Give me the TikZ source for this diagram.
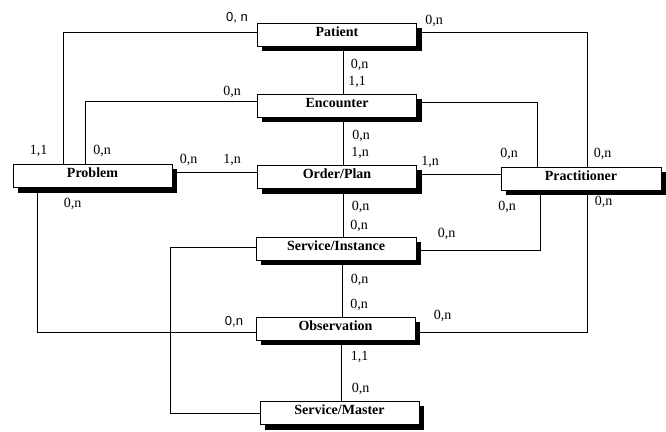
\documentclass[tikz,border=0pt]{standalone}
\usepackage{fontspec}
\setmainfont{Liberation Serif}
\newfontfamily\handfont{Liberation Sans}
\begin{document}
\begin{tikzpicture}[x=1pt,y=-1pt,
  ent/.style={draw=black, line width=0.8pt, fill=white, inner xsep=0pt, inner ysep=0pt,
    minimum width=159pt, text height=13pt, text depth=10pt,
    font=\fontsize{14}{14}\selectfont\bfseries},
  conn/.style={draw=black, line width=0.8pt},
  shadowline/.style={draw=black, line width=5pt, line cap=butt},
  card/.style={anchor=base, inner sep=0pt, font=\fontsize{14}{14}\selectfont},
  hcard/.style={anchor=base, inner sep=0pt, font=\handfont\fontsize{13}{13}\selectfont}]
\useasboundingbox (0,0) rectangle (666,431);

% entities
\node[ent] (pat) at (337,34.5) {Patient};
\node[ent] (enc) at (337,105.5) {Encounter};
\node[ent] (ord) at (337,177) {Order/Plan};
\node[ent] (prob) at (92.5,176) {Problem};
\node[ent, minimum width=160pt] (prac) at (581,178.5) {Practitioner};
\node[ent, minimum width=160pt] (si) at (336,248.5) {Service/Instance};
\node[ent] (obs) at (335.5,328.5) {Observation};
\node[ent] (sm) at (339.5,413) {Service/Master};

% shadows (right and bottom strips drawn as thick lines)
\foreach \n in {pat,enc,ord,prob,prac,si,obs,sm}{
  \draw[shadowline] ([xshift=2.5pt,yshift=-5pt]\n.north east) -- ([xshift=2.5pt,yshift=-5pt]\n.south east);
  \draw[shadowline] ([xshift=5pt,yshift=-2.5pt]\n.south west) -- ([xshift=5pt,yshift=-2.5pt]\n.south east);
}

% connectors on the left
\draw[conn] ([yshift=2.5pt]pat.west) -| ([xshift=51pt]prob.north west);
\draw[conn] ([yshift=4pt]enc.west) -| ([xshift=73pt]prob.north west);
\draw[conn] ([yshift=4pt]prob.east) -- ([yshift=5pt]ord.west);
\draw[conn] ([xshift=25pt]prob.south west) |- ([yshift=-3.5pt]obs.west);
\draw[conn] ([yshift=1.5pt]si.west) -- ++(-85,0) |- (sm.west);

% connectors on the right
\draw[conn] ([yshift=2.5pt,xshift=5pt]pat.east) -| ([xshift=87pt]prac.north west);
\draw[conn] ([yshift=3pt,xshift=5pt]enc.east) -| ([xshift=37pt]prac.north west);
\draw[conn] ([yshift=3pt,xshift=5pt]ord.east) -- ([yshift=4.5pt]prac.west);
\draw[conn] ([xshift=40pt,yshift=-5pt]prac.south west) |- ([yshift=-1.5pt,xshift=5pt]si.east);
\draw[conn] ([xshift=87pt,yshift=-5pt]prac.south west) |- ([yshift=-3.5pt,xshift=5pt]obs.east);

% central spine
\draw[conn] ([xshift=6pt,yshift=-5pt]pat.south) -- ([xshift=6pt]pat.south |- enc.north);
\draw[conn] ([xshift=6pt,yshift=-5pt]enc.south) -- ([xshift=6pt]enc.south |- ord.north);
\draw[conn] ([xshift=6pt,yshift=-5pt]ord.south) -- ([xshift=6pt]ord.south |- si.north);
\draw[conn] ([xshift=6pt,yshift=-5pt]si.south) -- ([xshift=6pt]si.south |- obs.north);
\draw[conn] ([xshift=6pt,yshift=-5pt]obs.south) -- ([xshift=6pt]obs.south |- sm.north);

% cardinalities
\node[hcard] (l1) at (237,21) {0, n};
\node[card] (l2) at (434,24) {0,n};
\node[card] (l3) at (359.5,68) {0,n};
\node[card] (l4) at (357,85) {1,1};
\node[card] (l5) at (232,95) {0,n};
\node[card] (l6) at (361,139) {0,n};
\node[card] (l7) at (360,156) {1,n};
\node[card] (l8) at (38.5,154) {1,1};
\node[card] (l9) at (102,154) {0,n};
\node[card] (l10) at (188.5,163) {0,n};
\node[card] (l11) at (232,163) {1,n};
\node[card] (l12) at (430,165) {1,n};
\node[card] (l13) at (509,157) {0,n};
\node[card] (l14) at (602.5,157) {0,n};
\node[card] (l15) at (72.5,207) {0,n};
\node[card] (l16) at (360.5,210.5) {0,n};
\node[card] (l17) at (507,210) {0,n};
\node[card] (l18) at (603.5,205) {0,n};
\node[card] (l19) at (359,229) {0,n};
\node[card] (l20) at (446.5,237) {0,n};
\node[card] (l21) at (359.5,283) {0,n};
\node[card] (l22) at (359,308.5) {0,n};
\node[hcard] (l23) at (234,325) {0,n};
\node[card] (l24) at (442.5,319) {0,n};
\node[card] (l25) at (359.5,360) {1,1};
\node[card] (l26) at (360.5,392.5) {0,n};
\end{tikzpicture}
\end{document}
